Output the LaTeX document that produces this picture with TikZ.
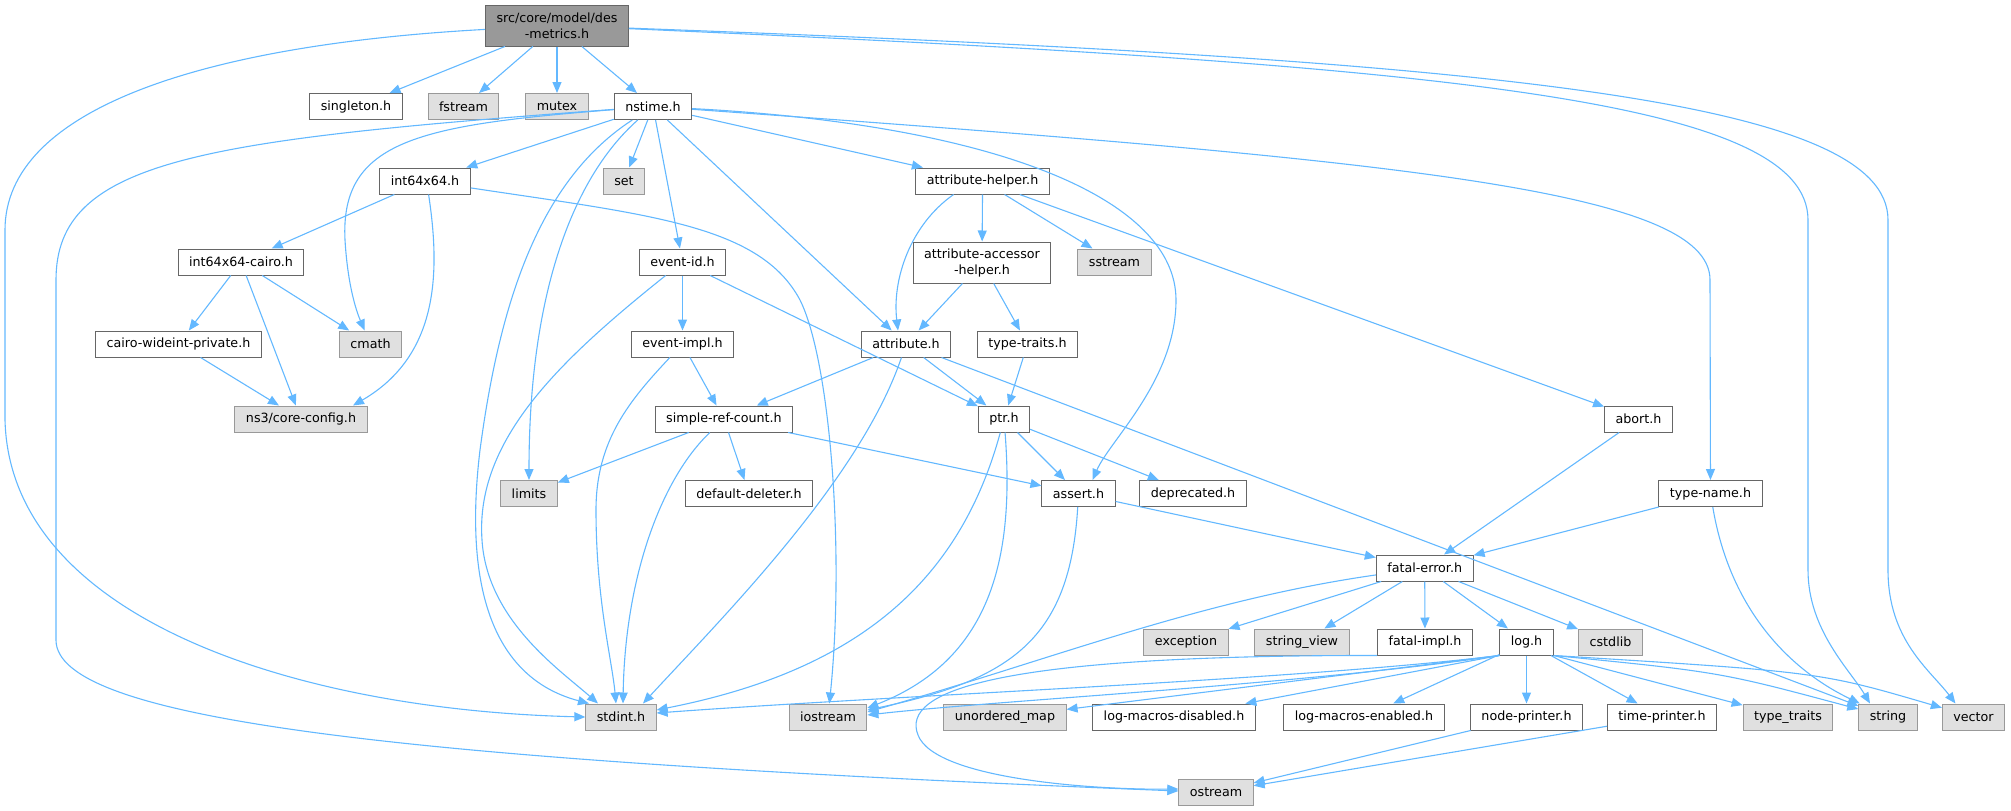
\documentclass[tikz,border=0pt]{standalone}
\usepackage{fontspec}
\setmainfont{DejaVu Sans}
\usepackage{xcolor}
\usetikzlibrary{arrows.meta,positioning}

\definecolor{edgeblue}{HTML}{63B8FF}
\definecolor{nodegray}{HTML}{666666}
\definecolor{sysgray}{HTML}{999999}
\definecolor{sysfill}{HTML}{E0E0E0}
\definecolor{rootfill}{HTML}{999999}

\begin{document}
\begin{tikzpicture}[
    x=1pt, y=-1pt,
    file/.style={rectangle, draw=nodegray, fill=white, line width=1pt, minimum height=26pt, inner xsep=11pt, inner ysep=2pt, font=\fontsize{12.7}{16}\selectfont},
    sysfile/.style={file, draw=sysgray, fill=sysfill},
    root/.style={file, fill=rootfill, align=center, minimum height=41pt},
    twoline/.style={file, align=center, minimum height=41pt},
    dep/.style={-{Triangle[length=11pt,width=9pt]}, color=edgeblue, line width=1.1pt}
]
\useasboundingbox (0,0) rectangle (2011,811);

% Root and first level
\node[root] (desmetrics) at (557,25.5) {src/core/model/des\\-metrics.h};
\node[file] (singleton) at (356,106.5) {singleton.h};
\node[sysfile] (fstream) at (463.5,106.5) {fstream};
\node[sysfile] (mutex) at (557,106.5) {mutex};
\node[file] (nstime) at (653,106.5) {nstime.h};

% Second level
\node[file] (int64x64) at (425,181) {int64x64.h};
\node[sysfile] (stdset) at (624,181) {set};
\node[file] (attrhelper) at (982.6,181) {attribute-helper.h};

% Third level
\node[file] (cairo) at (241,262) {int64x64-cairo.h};
\node[file] (eventid) at (682.5,262) {event-id.h};
\node[twoline] (accessor) at (982,262.5) {attribute-accessor\\-helper.h};
\node[sysfile] (sstream) at (1114.5,262) {sstream};

% Fourth level
\node[file] (wideint) at (178.5,344) {cairo-wideint-private.h};
\node[sysfile] (cmath) at (370.5,344) {cmath};
\node[file] (eventimpl) at (682.5,344) {event-impl.h};
\node[file] (attribute) at (906,344) {attribute.h};
\node[file] (typetraits) at (1027.5,344) {type-traits.h};

% Fifth level
\node[sysfile] (coreconfig) at (301,419) {ns3/core-config.h};
\node[file] (simpleref) at (724,419) {simple-ref-count.h};
\node[file] (ptr) at (1004,419) {ptr.h};
\node[file] (abort) at (1638.5,419) {abort.h};

% Sixth level
\node[sysfile] (limits) at (529,493.5) {limits};
\node[file] (deleter) at (749,493.5) {default-deleter.h};
\node[file] (assert) at (1078.5,493.5) {assert.h};
\node[file] (deprecated) at (1193,493.5) {deprecated.h};
\node[file] (typename) at (1710.5,493.5) {type-name.h};

% Seventh and eighth level
\node[file] (fatalerror) at (1424.7,568) {fatal-error.h};
\node[sysfile] (exception) at (1186,642) {exception};
\node[sysfile] (stringview) at (1302,642) {string\_view};
\node[file] (fatalimpl) at (1425,642) {fatal-impl.h};
\node[file] (log) at (1526.5,642) {log.h};
\node[sysfile] (cstdlib) at (1610.5,642) {cstdlib};

% Bottom rows
\node[sysfile] (stdint) at (621,717) {stdint.h};
\node[sysfile] (iostream) at (828,717) {iostream};
\node[sysfile] (unorderedmap) at (1005,717) {unordered\_map};
\node[file] (macrosdis) at (1174,717) {log-macros-disabled.h};
\node[file] (macrosen) at (1364,717) {log-macros-enabled.h};
\node[file] (nodeprinter) at (1526.5,717) {node-printer.h};
\node[file] (timeprinter) at (1662,717) {time-printer.h};
\node[sysfile] (stdtypetraits) at (1788,717) {type\_traits};
\node[sysfile] (string) at (1888,717) {string};
\node[sysfile] (vector) at (1973.5,717) {vector};
\node[sysfile] (ostream) at (1216,792) {ostream};

% Arrows from des-metrics.h
\draw[dep] (desmetrics) -- (singleton);
\draw[dep] (desmetrics) -- (fstream);
\draw[dep] (desmetrics) -- (mutex);
\draw[dep] (desmetrics) -- (nstime);
\draw[dep] (desmetrics) .. controls (200,45) and (5,110) .. (5,230) -- (5,420) .. controls (10,620) and (300,710) .. (stdint.west);
\draw[dep] (desmetrics) .. controls (1450,65) and (1808,100) .. (1808,220) -- (1808,570) .. controls (1808,630) and (1850,670) .. ([xshift=-18pt]string.north);
\draw[dep] (desmetrics) .. controls (1500,60) and (1888,100) .. (1888,220) -- (1888,570) .. controls (1888,640) and (1930,670) .. ([xshift=-18pt]vector.north);

% Arrows from nstime.h
\draw[dep] (nstime) -- (int64x64);
\draw[dep] (nstime) -- (stdset);
\draw[dep] (nstime) -- (eventid);
\draw[dep] (nstime) -- (attribute);
\draw[dep] (nstime) -- (attrhelper);
\draw[dep] (nstime) .. controls (420,125) and (340,140) .. (345,240) .. controls (348,290) and (358,315) .. (cmath);
\draw[dep] (nstime) .. controls (200,140) and (56,160) .. (56,280) -- (56,640) .. controls (56,720) and (400,760) .. ([yshift=1pt]ostream.west);
\draw[dep] (nstime) .. controls (540,180) and (500,300) .. (480,450) .. controls (462,600) and (500,680) .. ([xshift=-32pt]stdint.north);
\draw[dep] (nstime) .. controls (570,180) and (529,300) .. (limits);
\draw[dep] (nstime) .. controls (1000,125) and (1176,200) .. (1176,300) .. controls (1176,380) and (1110,440) .. ([xshift=14pt]assert.north);
\draw[dep] (nstime) .. controls (1400,160) and (1710,190) .. (1710,280) -- (typename);

% int64x64 family
\draw[dep] (int64x64) -- (cairo);
\draw[dep] ([xshift=3.6pt]int64x64.south) .. controls (440,270) and (440,355) .. ([xshift=52pt]coreconfig.north);
\draw[dep] (int64x64) .. controls (650,215) and (760,225) .. (800,300) .. controls (830,360) and (845,550) .. (iostream);
\draw[dep] (cairo) -- (wideint);
\draw[dep] (cairo) -- (coreconfig);
\draw[dep] (cairo) -- (cmath);
\draw[dep] (wideint) -- (coreconfig);

% event-id.h and event-impl.h
\draw[dep] (eventid) -- (eventimpl);
\draw[dep] (eventid) -- (ptr);
\draw[dep] (eventid) .. controls (560,360) and (475,440) .. (482,540) .. controls (487,620) and (560,670) .. ([xshift=-23pt]stdint.north);
\draw[dep] (eventimpl) -- (simpleref);
\draw[dep] (eventimpl) .. controls (630,400) and (596,440) .. (596,510) .. controls (596,600) and (612,660) .. ([xshift=-5pt]stdint.north);

% attribute helpers
\draw[dep] (attrhelper) -- (accessor);
\draw[dep] (attrhelper) -- (sstream);
\draw[dep] (attrhelper) -- (abort);
\draw[dep] ([xshift=-29pt]attrhelper.south) .. controls (910,225) and (892,280) .. ([xshift=-8pt]attribute.north);
\draw[dep] (accessor) -- (attribute);
\draw[dep] (accessor) -- (typetraits);
\draw[dep] (typetraits) -- (ptr);

% attribute.h
\draw[dep] (attribute) -- (simpleref);
\draw[dep] (attribute) -- (ptr);
\draw[dep] (attribute) -- (string);
\draw[dep] (attribute) .. controls (860,480) and (720,620) .. ([xshift=22pt]stdint.north);

% simple-ref-count.h and ptr.h
\draw[dep] (simpleref) -- (limits);
\draw[dep] (simpleref) -- (deleter);
\draw[dep] (simpleref) -- (assert);
\draw[dep] (simpleref) .. controls (660,480) and (625,580) .. ([xshift=2pt]stdint.north);
\draw[dep] (ptr) -- (assert);
\draw[dep] (ptr) -- (deprecated);
\draw[dep] (ptr) .. controls (960,580) and (860,670) .. ([yshift=7pt]stdint.east);
\draw[dep] (ptr) .. controls (1015,560) and (990,660) .. ([yshift=9pt]iostream.east);

% assert.h, abort.h, type-name.h
\draw[dep] (assert) -- (fatalerror);
\draw[dep] (assert) .. controls (1070,640) and (1010,680) .. ([yshift=7pt]iostream.east);
\draw[dep] (abort) -- (fatalerror);
\draw[dep] (typename) -- (fatalerror);
\draw[dep] (typename) .. controls (1730,610) and (1790,670) .. (string);

% fatal-error.h
\draw[dep] (fatalerror) -- (exception);
\draw[dep] (fatalerror) -- (stringview);
\draw[dep] (fatalerror) -- (fatalimpl);
\draw[dep] (fatalerror) -- (log);
\draw[dep] (fatalerror) -- (cstdlib);
\draw[dep] (fatalerror) .. controls (1200,600) and (1050,660) .. ([yshift=5pt]iostream.east);
\draw[dep] (fatalimpl.south west) .. controls (1000,655) and (900,690) .. (918,735) .. controls (935,780) and (1100,790) .. ([yshift=3pt]ostream.west);

% log.h
\draw[dep] (log.south west) .. controls (1300,680) and (900,695) .. ([yshift=4pt]stdint.east);
\draw[dep] (log.south west) .. controls (1300,685) and (1000,700) .. ([yshift=2pt]iostream.east);
\draw[dep] (log.south west) -- (unorderedmap);
\draw[dep] (log.south west) -- (macrosdis);
\draw[dep] (log) -- (macrosen);
\draw[dep] (log) -- (nodeprinter);
\draw[dep] (log) -- (timeprinter);
\draw[dep] (log.south east) -- (stdtypetraits);
\draw[dep] (log.south east) .. controls (1720,672) .. (string);
\draw[dep] (log.south east) .. controls (1820,672) .. (vector);

% printers
\draw[dep] (nodeprinter) -- (ostream);
\draw[dep] (timeprinter) -- (ostream);

\end{tikzpicture}
\end{document}
